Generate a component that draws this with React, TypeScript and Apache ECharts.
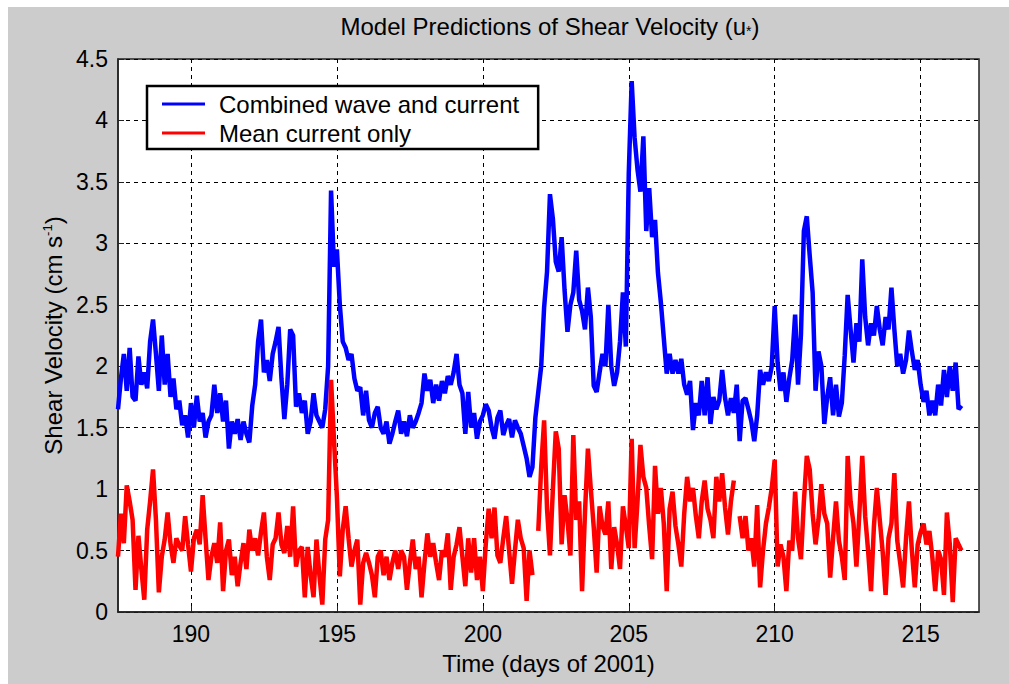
import React, { useEffect, useRef } from 'react';
import * as echarts from 'echarts';

const START_DAY = 187.5;
const STEP = 0.1;
const X_TICKS = [190, 195, 200, 205, 210, 215];
const SERIES_NAMES = ['Combined wave and current', 'Mean current only'];

// Combined wave and current, one value every 0.1 day from day 187.5
const BLUE = [
  1.65, 1.9, 2.1, 1.8, 2.15, 1.75, 1.72, 2.08, 1.85, 1.95,
  1.82, 2.2, 2.38, 2.1, 1.8, 2.25, 1.85, 2.1, 1.75, 1.9,
  1.65, 1.72, 1.52, 1.6, 1.42, 1.7, 1.5, 1.76, 1.55, 1.62,
  1.42, 1.55, 1.6, 1.85, 1.62, 1.78, 1.55, 1.72, 1.33, 1.55,
  1.45, 1.57, 1.4, 1.55, 1.45, 1.38, 1.68, 1.85, 2.2, 2.38,
  1.95, 2.05, 1.88, 2.1, 2.2, 2.32, 1.9, 1.57, 1.85, 2.3,
  2.25, 1.67, 1.78, 1.62, 1.72, 1.45, 1.55, 1.78, 1.6, 1.55,
  1.5, 1.65, 2.0, 3.43, 2.81, 2.95, 2.5, 2.2, 2.15, 2.05,
  2.1, 1.9, 1.8, 1.83, 1.6, 1.8, 1.56, 1.5, 1.62, 1.67,
  1.5, 1.45, 1.55, 1.37, 1.45, 1.55, 1.64, 1.45, 1.55, 1.43,
  1.6, 1.5, 1.55, 1.62, 1.7, 1.94, 1.8, 1.89, 1.7, 1.85,
  1.72, 1.88, 1.78, 1.92, 1.85, 1.95, 2.1, 1.85, 1.78, 1.45,
  1.79, 1.5, 1.62, 1.41, 1.55, 1.6, 1.69, 1.64, 1.5, 1.41,
  1.58, 1.64, 1.44, 1.52, 1.57, 1.42, 1.56, 1.5, 1.45, 1.35,
  1.25, 1.1, 1.18, 1.58, 1.79, 2.0, 2.48, 2.77, 3.4, 3.2,
  2.85, 2.77, 3.05, 2.62, 2.28, 2.5, 2.6, 2.94, 2.54, 2.45,
  2.3, 2.64, 2.4, 1.84, 1.79, 1.95, 2.1, 2.0, 2.5, 2.0,
  1.84, 1.95, 2.2, 2.6, 2.16, 3.57, 4.32, 3.86, 3.6, 3.42,
  3.87, 3.1, 3.45, 3.05, 3.19, 2.76, 2.52, 2.23, 1.94, 2.1,
  1.94, 2.05, 1.94, 2.06, 1.85, 1.77, 1.88, 1.48, 1.7, 1.6,
  1.88, 1.6, 1.91, 1.53, 1.75, 1.65, 1.72, 1.97, 1.74, 1.6,
  1.74, 1.62, 1.85, 1.39, 1.72, 1.74, 1.65, 1.55, 1.39, 1.6,
  1.97, 1.85, 1.95, 1.88, 2.0, 2.49, 2.03, 1.8, 1.95, 1.71,
  1.9, 2.05, 2.42, 1.85, 2.26, 3.1, 3.22, 2.9, 2.6, 1.8,
  2.12, 2.0, 1.53, 1.75, 1.91, 1.6, 1.85, 1.59, 1.7, 2.09,
  2.58, 2.3, 2.03, 2.35, 2.2, 2.87, 2.4, 2.17, 2.35, 2.25,
  2.49, 2.3, 2.17, 2.4, 2.3, 2.64, 2.3, 2.0, 2.1, 1.94,
  2.05, 2.29, 2.12, 1.97, 2.05, 1.85, 1.71, 1.8, 1.6, 1.72,
  1.6, 1.85, 1.68, 1.97, 1.75, 2.0, 1.8, 2.03, 1.65, 1.68,
];

// Mean current only, one value every 0.1 day from day 187.5 (null = gap)
const RED = [
  0.45, 0.8, 0.56, 1.03, 0.9, 0.75, 0.18, 0.62, 0.35, 0.1,
  0.67, 0.9, 1.16, 0.75, 0.16, 0.45, 0.59, 0.81, 0.55, 0.4,
  0.6, 0.54, 0.5, 0.78, 0.55, 0.33, 0.6, 0.67, 0.55, 0.95,
  0.6, 0.26, 0.45, 0.56, 0.4, 0.73, 0.17, 0.5, 0.59, 0.3,
  0.45, 0.21, 0.4, 0.56, 0.35, 0.67, 0.5, 0.6, 0.46, 0.65,
  0.81, 0.45, 0.26, 0.55, 0.6, 0.81, 0.55, 0.48, 0.7, 0.45,
  0.86, 0.37, 0.5, 0.53, 0.12, 0.53, 0.3, 0.12, 0.59, 0.3,
  0.06, 0.59, 0.75, 1.89, 1.4, 0.94, 0.29, 0.67, 0.86, 0.6,
  0.37, 0.5, 0.59, 0.06, 0.4, 0.48, 0.4, 0.3, 0.12, 0.45,
  0.5, 0.3, 0.45, 0.26, 0.4, 0.5, 0.35, 0.5, 0.45, 0.18,
  0.4, 0.59, 0.35, 0.45, 0.12, 0.4, 0.64, 0.45, 0.56, 0.4,
  0.26, 0.5, 0.45, 0.64, 0.18, 0.45, 0.55, 0.69, 0.45, 0.21,
  0.6, 0.32, 0.6, 0.26, 0.45, 0.17, 0.55, 0.84, 0.6, 0.85,
  0.46, 0.4, 0.6, 0.78, 0.5, 0.23, 0.5, 0.75, 0.6, 0.52,
  0.09, 0.5, 0.3, null, 0.66, 1.18, 1.56, 0.84, 0.46, 1.0,
  1.47, 1.33, 0.55, 0.95, 0.75, 0.46, 1.44, 0.75, 0.9, 0.17,
  0.81, 1.33, 1.0, 0.69, 0.32, 0.86, 0.7, 0.63, 0.9, 0.35,
  0.69, 0.55, 0.35, 0.86, 0.7, 0.52, 1.41, 0.52, 0.9, 1.36,
  1.1, 1.01, 0.7, 0.43, 1.19, 0.8, 1.01, 0.72, 0.17, 0.84,
  0.98, 0.7, 0.55, 0.37, 0.8, 1.1, 0.9, 1.01, 0.78, 0.6,
  0.9, 1.07, 0.84, 0.75, 0.6, 1.1, 0.9, 1.13, 0.85, 0.63,
  0.9, 1.07, null, 0.78, 0.6, 0.78, 0.5, 0.6, 0.37, 0.87,
  0.2, 0.5, 0.72, 0.85, 1.01, 1.24, 0.37, 0.55, 0.45, 0.17,
  0.58, 0.5, 0.98, 0.6, 0.43, 0.9, 1.27, 1.16, 0.8, 0.55,
  0.75, 1.04, 0.8, 0.72, 0.28, 0.6, 0.9, 0.58, 0.45, 0.26,
  1.27, 0.9, 0.72, 0.37, 0.8, 1.27, 0.78, 0.5, 0.17, 0.7,
  1.01, 0.75, 0.49, 0.14, 0.6, 0.72, 1.13, 0.58, 0.4, 0.2,
  0.6, 0.9, 0.5, 0.2, 0.55, 0.65, 0.72, 0.55, 0.66, 0.45,
  0.17, 0.5, 0.43, 0.14, 0.81, 0.55, 0.08, 0.6, 0.55, 0.5,
];

const FONT = '"Liberation Sans", Arial, Helvetica, sans-serif';

export default function App() {
  const ref = useRef<HTMLDivElement>(null);

  useEffect(() => {
    if (!ref.current) return;
    const chart = echarts.init(ref.current, null, { renderer: 'svg' });
    const dayAt = (i: number) => Math.round((START_DAY + STEP * i) * 100) / 100;
    const blueData = BLUE.map((v, i) => [dayAt(i), v]);
    const redData = RED.map((v, i) => [dayAt(i), v]);

    chart.setOption({
      animation: false,
      backgroundColor: '#cccccc',
      textStyle: { fontFamily: FONT },
      title: {
        text: 'Model Predictions of Shear Velocity (u{sub|*})',
        left: 537,
        top: 2,
        textAlign: 'center',
        textStyle: {
          fontFamily: FONT,
          fontSize: 24,
          fontWeight: 'normal',
          color: '#000',
          rich: {
            sub: { fontSize: 14, fontFamily: FONT, color: '#000', verticalAlign: 'bottom', padding: [10, 0, 0, 0] },
          },
        },
      },
      grid: {
        left: 110,
        top: 52,
        right: 30,
        bottom: 72,
        show: true,
        backgroundColor: '#ffffff',
        borderColor: '#222',
        borderWidth: 1.5,
      },
      legend: {
        data: SERIES_NAMES,
        orient: 'vertical',
        left: 139,
        top: 79,
        icon: 'rect',
        itemWidth: 43,
        itemHeight: 3,
        itemGap: 5,
        padding: [6, 19, 4, 15],
        borderColor: '#000',
        borderWidth: 2.5,
        backgroundColor: '#ffffff',
        textStyle: { fontFamily: FONT, fontSize: 24, color: '#000', lineHeight: 24, padding: [0, 0, 0, 9] },
      },
      xAxis: {
        type: 'value',
        min: 187.5,
        max: 217,
        name: 'Time (days of 2001)',
        nameLocation: 'middle',
        nameGap: 39,
        nameTextStyle: { fontFamily: FONT, fontSize: 24, color: '#000' },
        axisLine: { show: true, lineStyle: { color: '#222', width: 1.5 } },
        axisTick: { show: true, inside: true, length: 6, customValues: X_TICKS, lineStyle: { color: '#222' } },
        axisLabel: { customValues: X_TICKS, fontFamily: FONT, fontSize: 23, color: '#000', margin: 10 },
        splitLine: { show: true, lineStyle: { color: '#000', type: [4, 4], width: 1 } },
      },
      yAxis: {
        type: 'value',
        min: 0,
        max: 4.5,
        interval: 0.5,
        name: 'Shear Velocity (cm s{sup|-1})',
        nameLocation: 'middle',
        nameGap: 46,
        nameTextStyle: {
          fontFamily: FONT,
          fontSize: 24,
          color: '#000',
          rich: {
            sup: { fontSize: 13, fontFamily: FONT, color: '#000', verticalAlign: 'top', padding: [0, 0, 10, 0] },
          },
        },
        axisLine: { show: true, lineStyle: { color: '#222', width: 1.5 } },
        axisTick: { show: true, inside: true, length: 6, lineStyle: { color: '#222' } },
        axisLabel: { fontFamily: FONT, fontSize: 23, color: '#000', margin: 10 },
        splitLine: { show: true, lineStyle: { color: '#000', type: [4, 4], width: 1 } },
      },
      series: [
        {
          name: SERIES_NAMES[0],
          type: 'line',
          data: blueData,
          symbol: 'none',
          showSymbol: false,
          connectNulls: false,
          color: '#0000ff',
          lineStyle: { color: '#0000ff', width: 4.5 },
        },
        {
          name: SERIES_NAMES[1],
          type: 'line',
          data: redData,
          symbol: 'none',
          showSymbol: false,
          connectNulls: false,
          color: '#ff0000',
          lineStyle: { color: '#ff0000', width: 4.5 },
        },
      ],
    });

    return () => chart.dispose();
  }, []);

  return (
    <div style={{ position: 'fixed', left: 8, top: 7, width: 1001, height: 677, background: '#cccccc' }}>
      <div ref={ref} style={{ width: 1001, height: 677 }} />
    </div>
  );
}
